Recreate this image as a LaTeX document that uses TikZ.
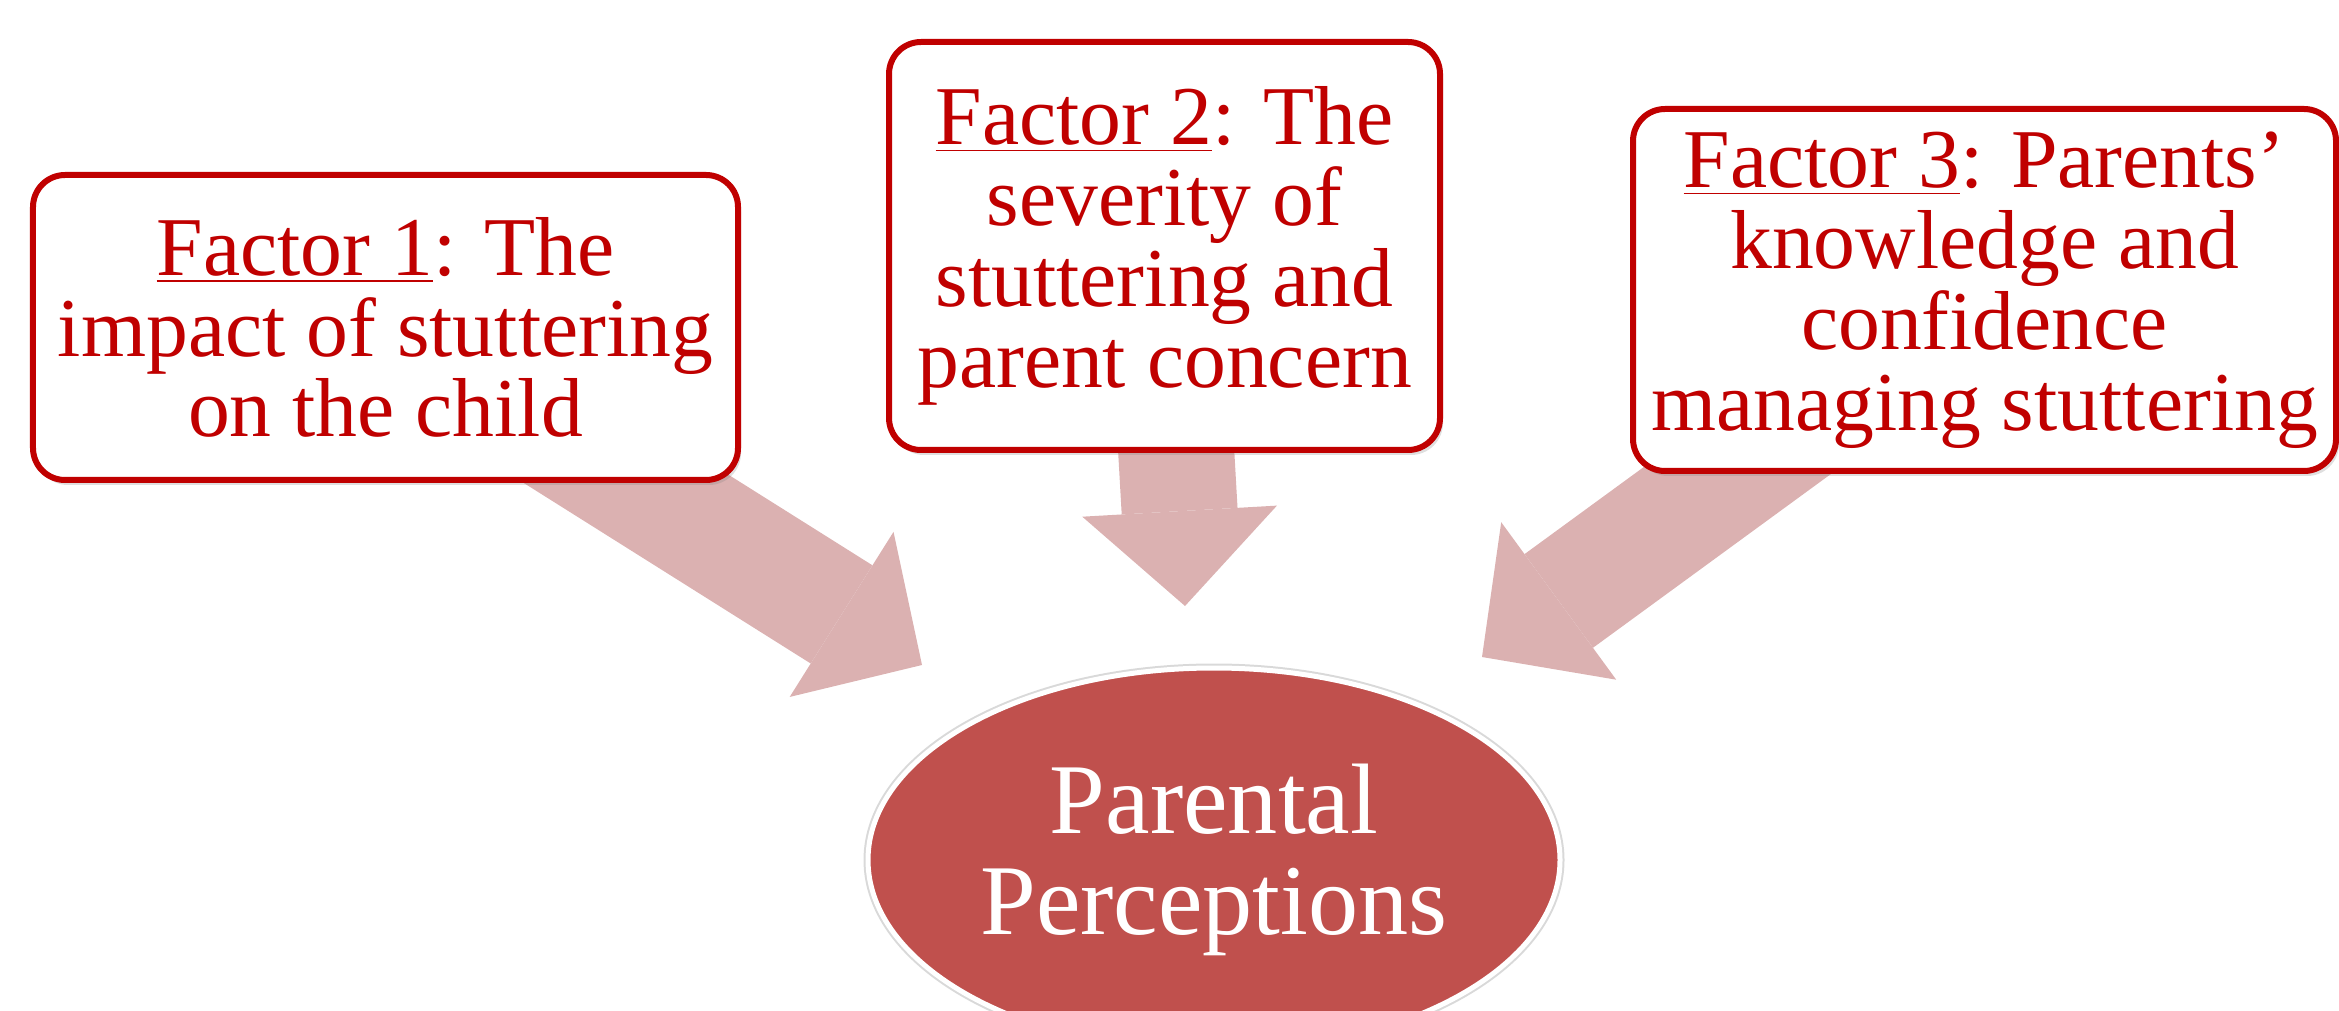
\documentclass[tikz,border=0pt]{standalone}
\usepackage{fontspec}
\setmainfont{Liberation Serif}
\usetikzlibrary{arrows.meta,shapes.geometric,shadows,backgrounds}
\definecolor{boxred}{HTML}{C00000}
\definecolor{ovalred}{HTML}{C0504D}
\definecolor{arrowpink}{HTML}{DBB1B1}

\begin{document}
\begin{tikzpicture}[
        factor/.style={rectangle, rounded corners=0.32cm, draw=boxred, line width=0.06cm, fill=white,
            text=boxred, align=center, inner sep=0pt, font=\fontsize{23.8}{23}\selectfont,
            drop shadow={opacity=0.25, shadow xshift=0.03cm, shadow yshift=-0.05cm}},
        percept/.style={ellipse, draw=white, line width=0.05cm, fill=ovalred, text=white, align=center,
            inner sep=0pt, minimum width=6.92cm, minimum height=3.84cm, font=\fontsize{28.5}{28.8}\selectfont,
            preaction={draw=black!15, line width=0.09cm}},
        bigarrow/.style={arrowpink, line width=1.16cm, -{Triangle[length=0.95cm, width=1.95cm, line width=0pt]}}
    ]
        \clip (0,0) rectangle (23.39,-10.11);

        % the three factors
        \node [factor, minimum width=7.05cm, minimum height=3.05cm] (F1) at (3.855,-3.275)
            {\underline{Factor 1}: The\\impact of stuttering\\on the child};
        \node [factor, minimum width=5.51cm, minimum height=4.08cm] (F2) at (11.645,-2.46)
            {\underline{Factor 2}: The\\severity of\\stuttering and\\parent concern};
        \node [factor, minimum width=7.03cm, minimum height=3.62cm] (F3) at (19.845,-2.90)
            {\underline{Factor 3}: Parents’\\knowledge and\\confidence\\managing stuttering};

        % parental perceptions
        \node [percept] (PP) at (12.14,-8.60) {Parental\\Perceptions};

        % arrow tips
        \coordinate (T1) at (9.22,-6.65);
        \coordinate (T2) at (11.85,-6.06);
        \coordinate (T3) at (14.82,-6.57);

        \begin{scope}[on background layer]
            \draw [bigarrow] (F1.center) -- (T1);
            \draw [bigarrow] (F2.center) -- (T2);
            \draw [bigarrow] (F3.center) -- (T3);
        \end{scope}
    \end{tikzpicture}
\end{document}
